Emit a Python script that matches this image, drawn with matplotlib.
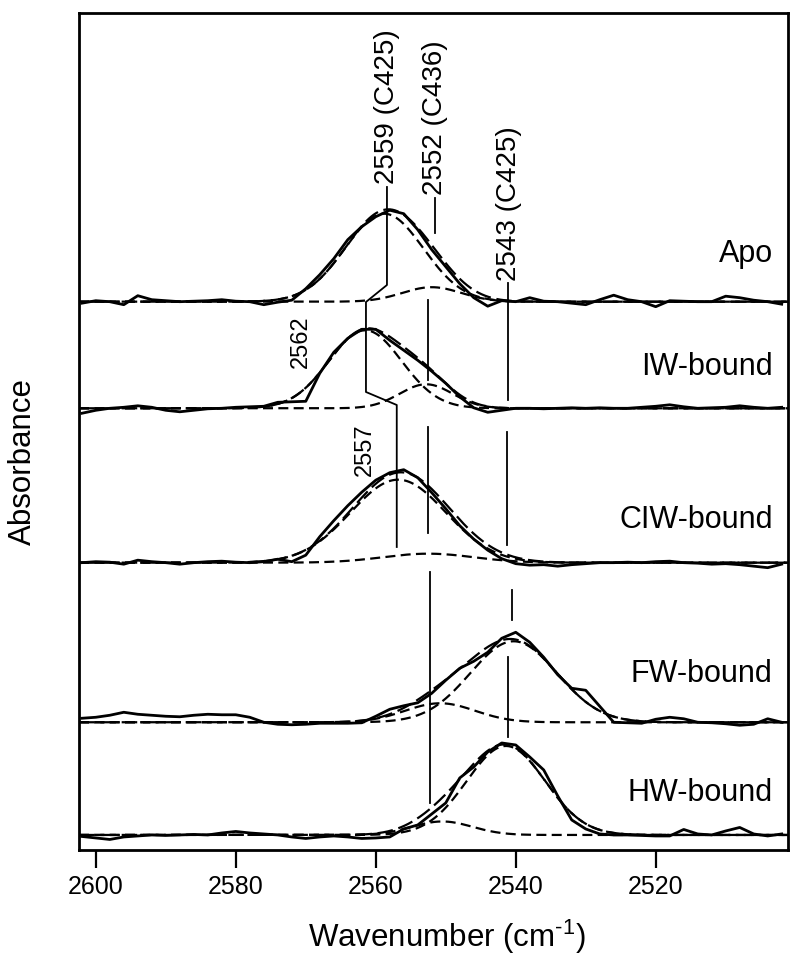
import numpy as np
import matplotlib
matplotlib.use('Agg')
import matplotlib.pyplot as plt

plt.rcParams['font.family'] = ['Liberation Sans', 'DejaVu Sans']
plt.rcParams['mathtext.fontset'] = 'custom'
plt.rcParams['mathtext.rm'] = 'Liberation Sans'

# S-H stretch region, measured spectra sampled every 2 cm-1 (2602 -> 2502)
wavenumber = np.arange(2602, 2501, -2)

apo = [-0.15, 0.1, 0.0, -0.3, 0.6, 0.2, 0.1, 0.0, 0.05, 0.1,
       0.2, 0.05, 0.0, -0.3, -0.05, 0.15, 1.3, 2.7, 4.3, 6.2,
       7.5, 8.5, 9.15, 8.8, 7.2, 5.2, 3.5, 1.8, 0.4, -0.45,
       0.1, 0.0, 0.4, 0.05, 0.0, -0.15, -0.3, 0.2, 0.65, 0.2,
       0.0, -0.5, 0.1, 0.05, 0.0, 0.0, 0.55, 0.4, 0.15, 0.0, -0.25]
iw = [-0.5, -0.2, 0.0, 0.1, 0.25, 0.1, -0.2, -0.35, -0.2, -0.05,
      0.0, 0.1, 0.15, 0.2, 0.6, 0.65, 0.7, 3.5, 5.6, 7.0,
      7.9, 7.9, 6.8, 5.8, 4.8, 3.7, 2.5, 1.15, 0.05, -0.4,
      -0.2, 0.0, 0.0, -0.05, 0.0, 0.05, 0.0, 0.05, 0.0, 0.0,
      0.1, 0.2, 0.35, 0.15, 0.0, 0.05, 0.1, 0.25, 0.1, 0.0, 0.1]
ciw = [0.0, 0.1, 0.05, -0.15, 0.25, 0.1, 0.0, -0.15, 0.0, 0.1,
       0.15, 0.05, 0.0, 0.1, 0.35, 0.1, 0.75, 2.6, 4.2, 5.7,
       7.05, 8.25, 9.0, 9.3, 8.5, 7.0, 5.4, 3.7, 2.35, 1.25,
       0.4, -0.1, -0.25, -0.2, -0.35, -0.2, -0.1, 0.0, 0.0, 0.05,
       0.0, 0.1, 0.15, 0.0, -0.05, -0.15, -0.1, -0.2, -0.35, -0.5, -0.15]
fw = [0.4, 0.5, 0.7, 1.0, 0.8, 0.7, 0.6, 0.55, 0.7, 0.8,
      0.75, 0.75, 0.5, 0.0, -0.2, -0.25, -0.2, -0.1, -0.1, -0.1,
      -0.05, 0.6, 1.3, 1.65, 1.95, 2.9, 4.2, 5.4, 6.1, 7.0,
      8.4, 9.0, 8.0, 6.5, 4.75, 3.4, 3.2, 1.6, 0.0, -0.05,
      -0.1, 0.3, 0.5, 0.35, 0.0, -0.05, -0.15, -0.3, -0.2, 0.35, 0.0]
hw = [-0.15, -0.3, -0.45, -0.2, -0.1, 0.0, -0.05, 0.0, 0.05, 0.0,
      0.2, 0.35, 0.2, 0.1, 0.0, -0.2, -0.35, -0.2, -0.1, -0.2,
      -0.35, -0.3, -0.2, 0.6, 1.0, 2.1, 3.2, 5.7, 6.8, 8.3,
      9.2, 9.0, 7.8, 6.5, 3.9, 1.5, 0.6, 0.1, 0.0, 0.0,
      -0.05, -0.1, -0.1, 0.55, 0.1, 0.0, 0.4, 0.75, 0.1, -0.1, 0.1]

samples = ['Apo', 'IW-bound', 'CIW-bound', 'FW-bound', 'HW-bound']
spectra = [apo, iw, ciw, fw, hw]
offsets = [54.83, 44.17, 28.73, 12.77, 1.5]
label_y = [59.6, 48.3, 33.0, 17.6, 5.7]

# gaussian fit bands: (center, height, sigma)
fit_main = [(2558.8, 8.8, 5.6), (2561.5, 7.8, 5.2), (2556.8, 8.3, 6.8),
            (2540.3, 8.1, 6.2), (2541.4, 8.9, 5.6)]
fit_minor = [(2552.0, 1.45, 4.2), (2552.8, 2.4, 3.8), (2552.5, 0.9, 6.5),
             (2550.8, 1.9, 5.0), (2550.5, 1.35, 4.3)]

# guide lines linking band positions between spectra
guide_2559 = [[(2558.4, 66.3), (2558.4, 56.5), (2561.4, 54.8), (2561.4, 45.8),
               (2557.0, 44.5), (2557.0, 30.3)]]
guide_2552 = [[(2551.5, 65.2), (2551.5, 61.7)], [(2552.5, 55.0), (2552.5, 47.0)],
              [(2552.5, 42.3), (2552.5, 31.7)], [(2552.2, 27.8), (2552.2, 4.7)]]
guide_2541 = [[(2541.1, 56.7), (2541.1, 45.0)], [(2541.2, 41.8), (2541.2, 30.5)],
              [(2540.6, 26.0), (2540.6, 23.0)], [(2541.1, 19.3), (2541.1, 11.3)]]


def gauss(x, c, h, s):
    return h * np.exp(-(x - c) ** 2 / (2 * s ** 2))


fig = plt.figure(figsize=(8, 9.64), dpi=100)
ax = fig.add_axes([0.09875, 0.1183, 0.88625, 0.8682])

xf = np.linspace(2602.4, 2501.1, 600)
for vals, off, m, n in zip(spectra, offsets, fit_main, fit_minor):
    g1 = gauss(xf, *m)
    g2 = gauss(xf, *n)
    ax.plot(xf, g1 + off, color='k', lw=1.6, ls=(0, (4.5, 2.4)))
    ax.plot(xf, g2 + off, color='k', lw=1.6, ls=(0, (4.5, 2.4)))
    ax.plot(xf, g1 + g2 + off, color='k', lw=1.6, ls=(0, (7, 2.6)))
    ax.plot(wavenumber, np.array(vals) + off, color='k', lw=2.0)

for seg in guide_2559 + guide_2552 + guide_2541:
    xs, ys = zip(*seg)
    ax.plot(xs, ys, color='k', lw=1.3)

ax.text(2558.4, 66.6, '2559 (C425)', rotation=90, ha='center', va='bottom', fontsize=20)
ax.text(2551.5, 65.5, '2552 (C436)', rotation=90, ha='center', va='bottom', fontsize=20)
ax.text(2540.9, 56.9, '2543 (C425)', rotation=90, ha='center', va='bottom', fontsize=20)
ax.text(2570.7, 50.85, '2562', rotation=90, ha='center', va='center', fontsize=17)
ax.text(2561.5, 40.0, '2557', rotation=90, ha='center', va='center', fontsize=17)

for name, y in zip(samples, label_y):
    ax.text(2503.3, y, name, ha='right', va='center', fontsize=22)

ax.set_xlim(2602.4, 2501.1)
ax.set_ylim(0, 83.7)
ax.set_xticks([2600, 2580, 2560, 2540, 2520])
ax.set_yticks([])
ax.tick_params(axis='x', direction='out', length=13, width=1.6, labelsize=18, pad=5)
for sp in ax.spines.values():
    sp.set_linewidth(2.0)

fig.text(0.559, 0.028, 'Wavenumber (cm$^{\\text{-1}}$)', ha='center', va='center', fontsize=22.5)
fig.text(0.029, 0.521, 'Absorbance', rotation=90, ha='center', va='center', fontsize=22.5)

fig.savefig('out.png', dpi=100)
